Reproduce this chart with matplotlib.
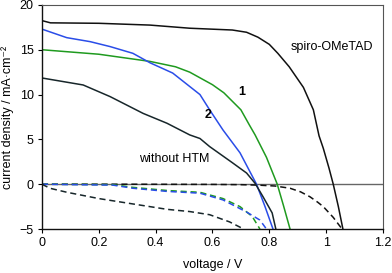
import matplotlib
matplotlib.use('Agg')
import matplotlib.pyplot as plt

plt.rcParams['font.family'] = ['Liberation Sans', 'DejaVu Sans']

# spiro-OMeTAD, light and dark
spiro_v = [0, 0.03, 0.2, 0.38, 0.52, 0.67, 0.72, 0.76, 0.8, 0.83, 0.87, 0.92,
           0.955, 0.975, 0.99, 1.01, 1.025, 1.043, 1.059]
spiro_j = [18.25, 18.0, 17.95, 17.75, 17.4, 17.2, 16.95, 16.4, 15.6, 14.6, 13.1,
           10.8, 8.3, 5.4, 4.0, 1.8, 0, -2.5, -5]
spiro_dark_v = [0, 0.3, 0.6, 0.7, 0.76, 0.82, 0.873, 0.91, 0.943, 0.97, 0.99,
                1.025, 1.056]
spiro_dark_j = [0, 0, -0.02, -0.05, -0.1, -0.2, -0.45, -0.85, -1.4, -2.0, -2.5,
                -3.7, -5]

# HTM 1 (green)
htm1_v = [0, 0.2, 0.38, 0.47, 0.52, 0.56, 0.6, 0.64, 0.70, 0.73, 0.75, 0.79,
          0.828, 0.85, 0.873]
htm1_j = [15.0, 14.5, 13.7, 13.1, 12.5, 11.8, 11.1, 10.2, 8.3, 6.6, 5.5, 3.0,
          0, -2.4, -5]
htm1_dark_v = [0, 0.25, 0.32, 0.44, 0.556, 0.637, 0.697, 0.74, 0.767]
htm1_dark_j = [0, -0.05, -0.35, -0.7, -0.9, -1.6, -2.5, -3.6, -5]

# HTM 2 (blue)
htm2_v = [0, 0.087, 0.17, 0.24, 0.32, 0.38, 0.46, 0.52, 0.556, 0.59, 0.637,
          0.697, 0.755, 0.785, 0.813]
htm2_j = [17.3, 16.35, 15.9, 15.35, 14.6, 13.55, 12.4, 10.9, 10.0, 8.3, 6.05,
          3.5, 0, -2.5, -5]
htm2_dark_v = [0, 0.25, 0.32, 0.44, 0.556, 0.637, 0.72, 0.767, 0.79]
htm2_dark_j = [0, -0.1, -0.45, -0.8, -1.0, -1.75, -3.1, -4.0, -5]

# without HTM
none_v = [0, 0.145, 0.24, 0.356, 0.44, 0.52, 0.556, 0.59, 0.67, 0.72, 0.75,
          0.778, 0.81, 0.823]
none_j = [11.85, 11.07, 9.77, 7.9, 6.8, 5.5, 5.1, 4.2, 2.4, 1.25, 0.1, -1.4,
          -3.2, -5]
none_dark_v = [0, 0.028, 0.088, 0.2, 0.32, 0.44, 0.52, 0.59, 0.66, 0.71]
none_dark_j = [0, -0.45, -0.9, -1.6, -2.2, -2.8, -3.05, -3.4, -4.2, -5]

x_ticks = [0, 0.2, 0.4, 0.6, 0.8, 1, 1.2]
x_labels = ['0', '0.2', '0.4', '0.6', '0.8', '1', '1.2']
y_ticks = [-5, 0, 5, 10, 15, 20]

fig = plt.figure(figsize=(3.92, 2.73), dpi=100)
ax = fig.add_axes([0.107, 0.161, 0.870, 0.821])

ax.axhline(0, color='#666666', lw=1.0, zorder=1)

green = '#1f9a1f'
blue = '#2a4de8'
dash = (0, (4, 2.5))
lw = 1.1

ax.plot(spiro_v, spiro_j, color='#111111', lw=lw)
ax.plot(spiro_dark_v, spiro_dark_j, color='#111111', lw=lw, linestyle=dash)
ax.plot(htm1_v, htm1_j, color=green, lw=lw)
ax.plot(htm1_dark_v, htm1_dark_j, color=green, lw=lw, linestyle=dash)
ax.plot(htm2_v, htm2_j, color=blue, lw=lw)
ax.plot(htm2_dark_v, htm2_dark_j, color=blue, lw=lw, linestyle=dash)
ax.plot(none_v, none_j, color='#17262a', lw=lw)
ax.plot(none_dark_v, none_dark_j, color='#17262a', lw=lw, linestyle=dash)

fs = 9
ax.text(1.02, 15.3, 'spiro-OMeTAD', fontsize=fs, ha='center', va='center')
ax.text(0.704, 10.3, '1', fontsize=fs, fontweight='bold', ha='center', va='center')
ax.text(0.584, 7.7, '2', fontsize=fs, fontweight='bold', ha='center', va='center')
ax.text(0.464, 2.8, 'without HTM', fontsize=fs, ha='center', va='center')

ax.set_xlim(0, 1.2)
ax.set_ylim(-5, 20)
ax.set_xticks(x_ticks)
ax.set_xticklabels(x_labels)
ax.set_yticks(y_ticks)
ax.tick_params(labelsize=fs, length=3, width=0.8, direction='out', pad=3)

for side in ['top', 'right']:
    ax.spines[side].set_color('#555555')
    ax.spines[side].set_linewidth(0.8)
for side in ['left', 'bottom']:
    ax.spines[side].set_color('#111111')
    ax.spines[side].set_linewidth(1.0)

ax.set_xlabel('voltage / V', fontsize=fs, labelpad=7)
ax.set_ylabel('current density / mA\u00b7cm\u207b\u00b2', fontsize=fs, labelpad=4)

fig.savefig('out.png', dpi=100)
